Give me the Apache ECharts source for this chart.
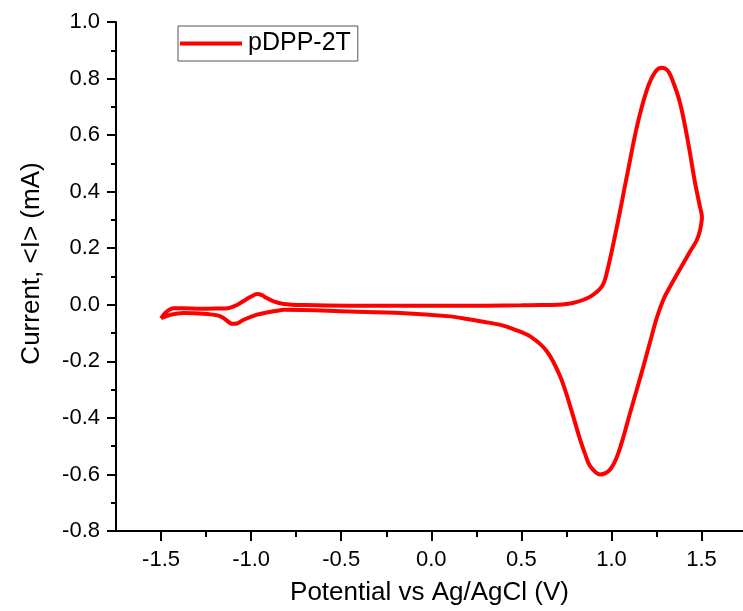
<!DOCTYPE html>
<html>
<head>
<meta charset="utf-8">
<script src="https://cdn.jsdelivr.net/npm/echarts@6/dist/echarts.min.js"></script>
<style>
  html, body { margin: 0; padding: 0; background: #fff; }
  #chart { width: 743px; height: 611px; }
</style>
</head>
<body>
<div id="chart"></div>
<script>
// Cyclic voltammogram of pDPP-2T: one closed loop, potential (V) vs current (mA)
const seriesName = 'pDPP-2T';

// forward (anodic) scan from -1.5 V up to the 1.5 V vertex
const forwardPotential = [
  -1.50, -1.47, -1.43, -1.38, -1.28, -1.18, -1.13, -1.09, -1.06, -1.03,
  -1.00, -0.967, -0.94, -0.92, -0.875, -0.82, -0.70, -0.45, 0.00, 0.30,
  0.50, 0.605, 0.70, 0.79, 0.88, 0.947, 0.974, 1.03, 1.085,
  1.141, 1.196, 1.242, 1.28, 1.31, 1.335, 1.381, 1.426, 1.464, 1.49, 1.502
];
const forwardCurrent = [
  -0.048, -0.025, -0.012, -0.012, -0.014, -0.013, -0.012, -0.004, 0.006, 0.018,
  0.029, 0.038, 0.034, 0.026, 0.012, 0.003, -0.001, -0.003, -0.003, -0.003,
  -0.002, -0.001, 0.000, 0.007, 0.028, 0.065, 0.113, 0.276, 0.453,
  0.629, 0.759, 0.823, 0.838, 0.830, 0.800, 0.713, 0.572, 0.431, 0.350, 0.310
];

// reverse (cathodic) scan from the 1.5 V vertex back to -1.5 V
const reversePotential = [
  1.492, 1.474, 1.436, 1.399, 1.326, 1.288, 1.252, 1.215, 1.177, 1.104,
  1.039, 0.993, 0.937, 0.882, 0.855, 0.826, 0.771,
  0.715, 0.642, 0.549, 0.456, 0.383, 0.29, 0.20, 0.105,
  -0.17, -0.45, -0.82, -0.856, -0.92, -0.967, -1.041, -1.078, -1.10, -1.115,
  -1.17, -1.244, -1.374, -1.448, -1.49, -1.50
];
const reverseCurrent = [
  0.265, 0.229, 0.188, 0.147, 0.065, 0.018, -0.045, -0.130, -0.218, -0.381,
  -0.523, -0.582, -0.600, -0.571, -0.530, -0.477, -0.359,
  -0.253, -0.165, -0.112, -0.086, -0.071, -0.060, -0.050, -0.041,
  -0.029, -0.024, -0.018, -0.021, -0.028, -0.035, -0.053, -0.066, -0.067, -0.065,
  -0.041, -0.033, -0.029, -0.035, -0.045, -0.048
];

// axis ticks
const xMajorTicks = [-1.5, -1.0, -0.5, 0.0, 0.5, 1.0, 1.5];
const xMinorTicks = [-1.25, -0.75, -0.25, 0.25, 0.75, 1.25];
const yTickStep = 0.2;

const potential = forwardPotential.concat(reversePotential);
const current = forwardCurrent.concat(reverseCurrent);
const loop = potential.map((v, i) => [v, current[i]]);

const FONT = 'Liberation Sans, Arial, Helvetica, sans-serif';
const INK = '#000';

const chart = echarts.init(document.getElementById('chart'), null, { renderer: 'canvas' });

chart.setOption({
  backgroundColor: '#fff',
  animation: false,
  textStyle: { fontFamily: FONT },
  grid: { left: 116, top: 22, right: 0, bottom: 79 },
  legend: {
    show: true,
    left: 178,
    top: 26,
    orient: 'horizontal',
    icon: 'rect',
    itemWidth: 62,
    itemHeight: 4,
    itemGap: 6,
    padding: [5, 7, 5, 2],
    borderColor: '#555',
    borderWidth: 1,
    textStyle: { fontFamily: FONT, fontSize: 25, color: INK, padding: [0, 0, 0, 1] },
    data: [seriesName]
  },
  xAxis: [
    {
      type: 'value',
      min: -1.75,
      max: 1.73,
      position: 'bottom',
      name: 'Potential vs Ag/AgCl (V)',
      nameLocation: 'middle',
      nameGap: 49,
      nameTextStyle: { fontFamily: FONT, fontSize: 26, color: INK },
      axisLine: { show: true, onZero: false, lineStyle: { color: INK, width: 2 } },
      axisTick: { show: true, inside: false, length: 10, customValues: xMajorTicks, lineStyle: { color: INK, width: 2 } },
      axisLabel: {
        show: true, margin: 18, customValues: xMajorTicks,
        fontFamily: FONT, fontSize: 22, color: INK,
        formatter: v => v.toFixed(1)
      },
      splitLine: { show: false }
    },
    {
      type: 'value',
      min: -1.75,
      max: 1.73,
      position: 'bottom',
      axisLine: { show: false, onZero: false },
      axisTick: { show: true, inside: false, length: 6, customValues: xMinorTicks, lineStyle: { color: INK, width: 2 } },
      axisLabel: { show: false },
      splitLine: { show: false }
    }
  ],
  yAxis: {
    type: 'value',
    min: -0.8,
    max: 1.0,
    interval: yTickStep,
    name: 'Current, <I> (mA)',
    nameLocation: 'middle',
    nameRotate: 90,
    nameGap: 71,
    nameTextStyle: { fontFamily: FONT, fontSize: 26, color: INK, padding: [0, 0, 0, 26] },
    axisLine: { show: true, onZero: false, lineStyle: { color: INK, width: 2 } },
    axisTick: { show: true, inside: false, length: 9, lineStyle: { color: INK, width: 2 } },
    minorTick: { show: true, splitNumber: 2, length: 5, lineStyle: { color: INK, width: 2 } },
    axisLabel: {
      show: true, margin: 16,
      fontFamily: FONT, fontSize: 22, color: INK,
      formatter: v => v.toFixed(1)
    },
    splitLine: { show: false },
    minorSplitLine: { show: false }
  },
  series: [
    {
      name: seriesName,
      type: 'line',
      xAxisIndex: 0,
      data: loop,
      showSymbol: false,
      symbol: 'none',
      smooth: 0.35,
      clip: false,
      lineStyle: { color: '#ff0000', width: 4 },
      itemStyle: { color: '#ff0000' }
    }
  ]
});
</script>
</body>
</html>
